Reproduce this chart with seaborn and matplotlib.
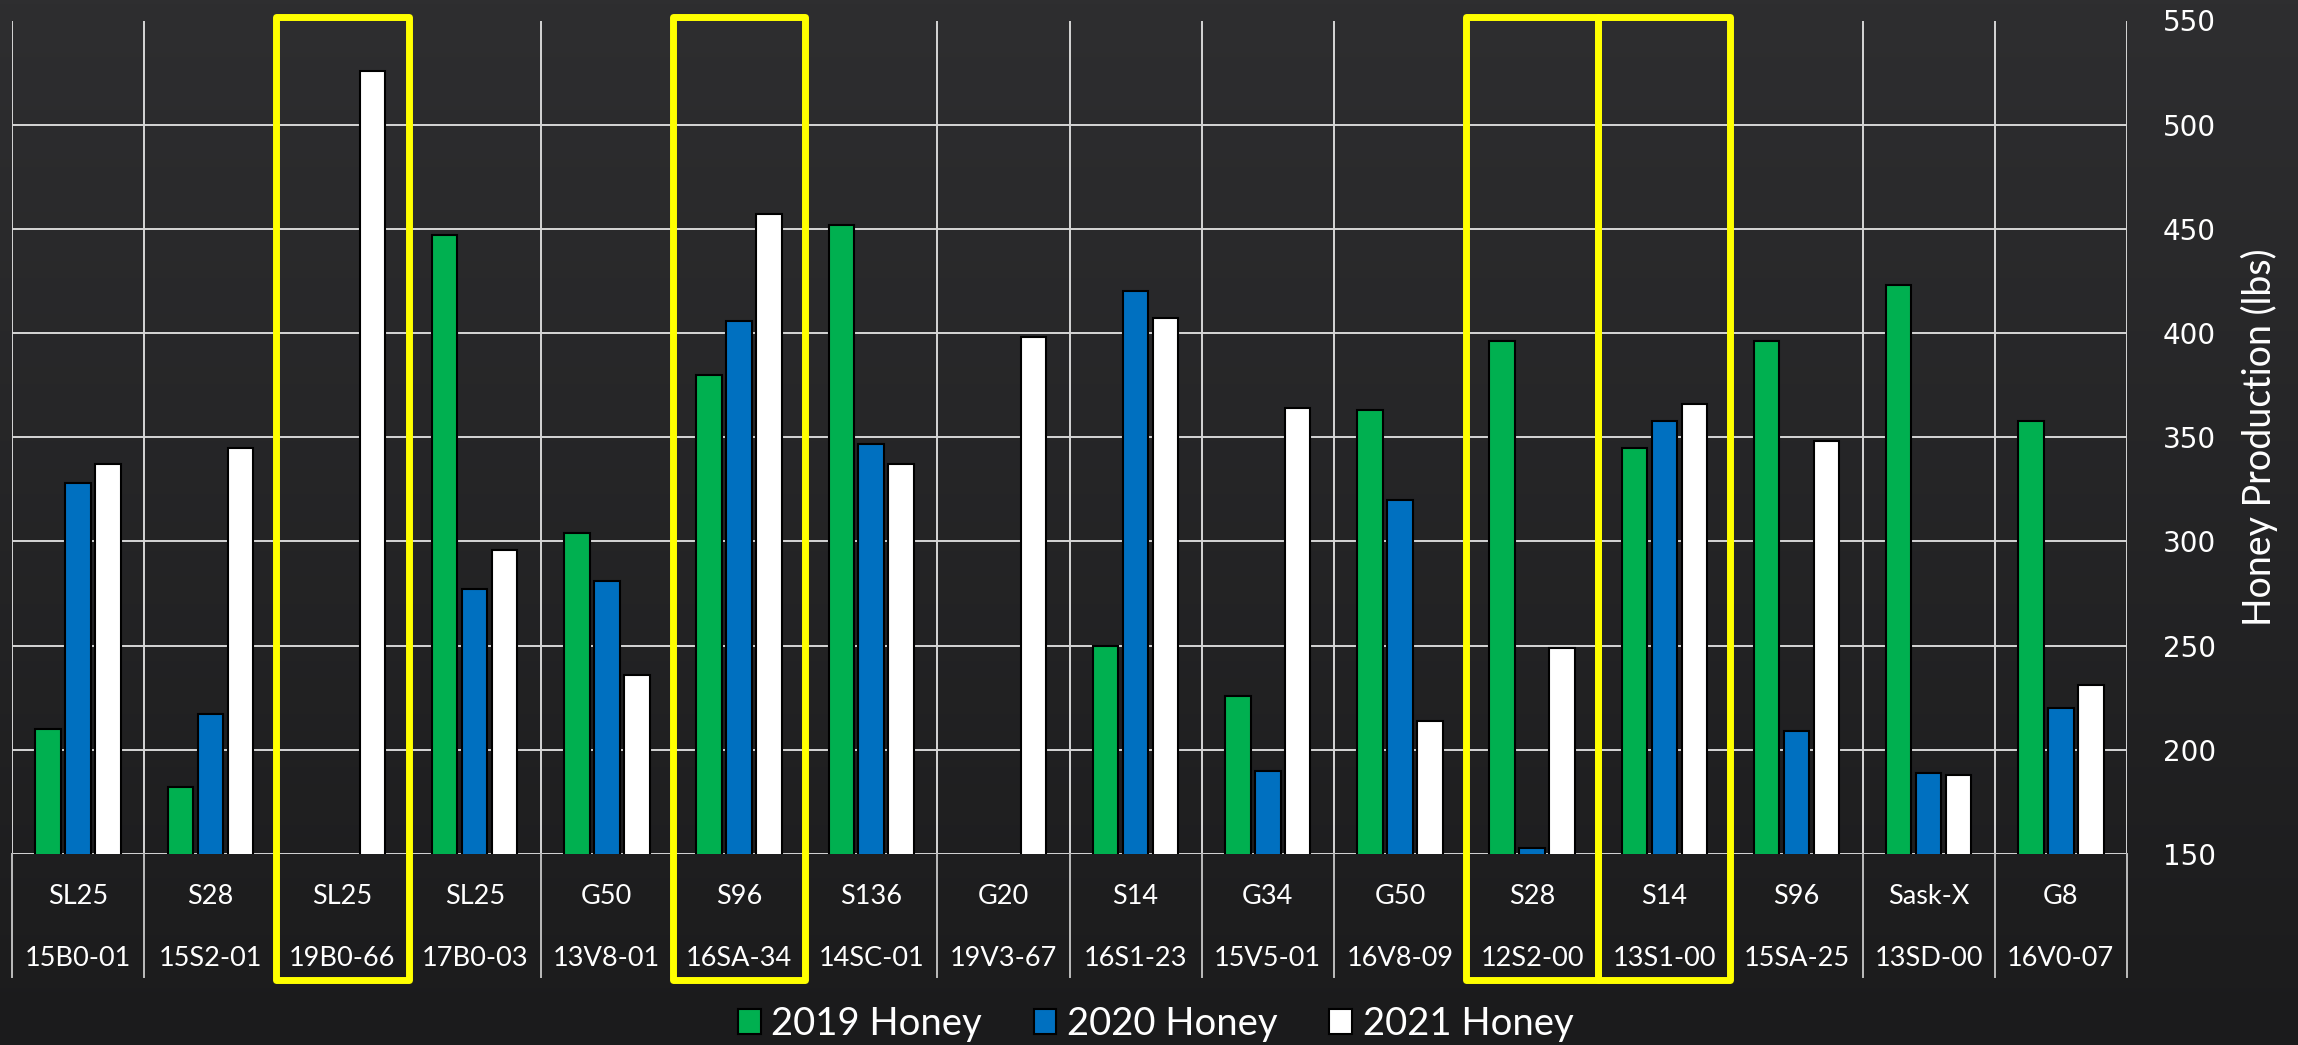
import numpy as np
import pandas as pd
import matplotlib
matplotlib.use("Agg")
import matplotlib.pyplot as plt
import seaborn as sns
from matplotlib.patches import Rectangle

# ---- data -------------------------------------------------------------
codes = ["15B0-01", "15S2-01", "19B0-66", "17B0-03", "13V8-01", "16SA-34",
         "14SC-01", "19V3-67", "16S1-23", "15V5-01", "16V8-09", "12S2-00",
         "13S1-00", "15SA-25", "13SD-00", "16V0-07"]
varieties = ["SL25", "S28", "SL25", "SL25", "G50", "S96", "S136", "G20",
             "S14", "G34", "G50", "S28", "S14", "S96", "Sask-X", "G8"]
honey_2019 = [210, 182, np.nan, 447, 304, 380, 452, np.nan,
              250, 226, 363, 396, 345, 396, 423, 358]
honey_2020 = [328, 217, np.nan, 277, 281, 406, 347, np.nan,
              420, 190, 320, 153, 358, 209, 189, 220]
honey_2021 = [337, 345, 526, 296, 236, 457, 337, 398,
              407, 364, 214, 249, 366, 348, 188, 231]
series_labels = ["2019 Honey", "2020 Honey", "2021 Honey"]
series_colors = ["#00B050", "#0070C0", "#FFFFFF"]
highlighted = ["19B0-66", "16SA-34", "12S2-00", "13S1-00"]
y_ticks = [150, 200, 250, 300, 350, 400, 450, 500, 550]

rows = []
for label, values in zip(series_labels, [honey_2019, honey_2020, honey_2021]):
    for code, v in zip(codes, values):
        if not np.isnan(v):
            rows.append({"code": code, "series": label, "lbs": v})
df = pd.DataFrame(rows)

# ---- figure -----------------------------------------------------------
W, H = 2298, 1045
fig = plt.figure(figsize=(W / 100, H / 100), dpi=100)

# dark chalkboard-style backdrop
bg = fig.add_axes([0, 0, 1, 1], zorder=-10)
top_c = np.array([0x2E, 0x2E, 0x30]) / 255
bot_c = np.array([0x1B, 0x1B, 0x1C]) / 255
t = np.linspace(0, 1, 256)[:, None, None]
grad = top_c * (1 - t) + bot_c * t
bg.imshow(np.repeat(grad, 4, axis=1), aspect="auto", extent=[0, 1, 0, 1])
bg.set_axis_off()

left_px, right_px, top_px, bottom_px = 12, 2127, 20.5, 854
ax = fig.add_axes([left_px / W, 1 - bottom_px / H,
                   (right_px - left_px) / W, (bottom_px - top_px) / H])
ax.set_facecolor("none")

sns.barplot(data=df, x="code", y="lbs", hue="series", order=codes,
            hue_order=series_labels, palette=series_colors, width=0.68,
            gap=0.15, edgecolor="black", linewidth=1.5, errorbar=None,
            saturation=1, ax=ax, zorder=3)

ax.set_xlim(-0.5, len(codes) - 0.5)
ax.set_ylim(150, 550)
ax.set_yticks(y_ticks)
ax.yaxis.tick_right()
ax.tick_params(axis="y", length=0, pad=26, labelsize=20, labelcolor="white")
for lbl in ax.get_yticklabels():
    lbl.set_family("DejaVu Sans")

grid_c = "#d6d6d6"
ax.yaxis.grid(True, color=grid_c, lw=1.4, zorder=0)
ax.set_xticks(np.arange(-0.5, len(codes), 1), minor=True)
ax.xaxis.grid(True, which="minor", color=grid_c, lw=1.4, zorder=0)
ax.xaxis.grid(False, which="major")
ax.set_xticks(range(len(codes)))
ax.set_xticklabels([])
ax.tick_params(axis="x", which="both", length=0)
for s in ax.spines.values():
    s.set_visible(False)
ax.set_xlabel("")

# two-level category labels below the plot area
xt = ax.get_xaxis_transform()
ax_h = bottom_px - top_px
row1_y = -(896 - bottom_px) / ax_h
row2_y = -(958 - bottom_px) / ax_h
sep_y = -(977 - bottom_px) / ax_h
for i, (var, code) in enumerate(zip(varieties, codes)):
    ax.text(i, row1_y, var, transform=xt, ha="center", va="center",
            color="white", fontsize=19.5, family="Lato")
    ax.text(i, row2_y, code, transform=xt, ha="center", va="center",
            color="white", fontsize=19.5, family="Lato")
for b in np.arange(-0.5, len(codes), 1):
    ax.plot([b, b], [0, sep_y], transform=xt, clip_on=False,
            color="#bdbdbd", lw=1.4)

# highlight boxes
box_top = (bottom_px - 16.5) / ax_h
box_bot = -(980 - bottom_px) / ax_h
for code in highlighted:
    i = codes.index(code)
    ax.add_patch(Rectangle((i - 0.5, box_bot), 1.0, box_top - box_bot,
                           transform=xt, fill=False, ec="#FFFF00", lw=5,
                           joinstyle="round", clip_on=False, zorder=6))

# axis title on the right
ax.yaxis.set_label_position("right")
ax.set_ylabel("Honey Production (lbs)", fontsize=27, color="white",
              family="Lato")
ax.yaxis.set_label_coords((2259 - left_px) / (right_px - left_px), 0.5)
ax.yaxis.label.set_verticalalignment("center")

# legend
handles, labels = ax.get_legend_handles_labels()
if ax.get_legend() is not None:
    ax.get_legend().remove()
for h in handles:
    h.set_edgecolor("black")
    h.set_linewidth(1.5)
fig.legend(handles, labels, loc="center", bbox_to_anchor=(1155.5 / W, 1 - 1024 / H),
           ncol=3, frameon=False, handlelength=0.6, handleheight=0.6,
           handletextpad=0.27, columnspacing=1.36, labelcolor="white",
           prop={"family": "Lato", "size": 27.5})

fig.savefig("out.png", dpi=100, facecolor=fig.get_facecolor())
